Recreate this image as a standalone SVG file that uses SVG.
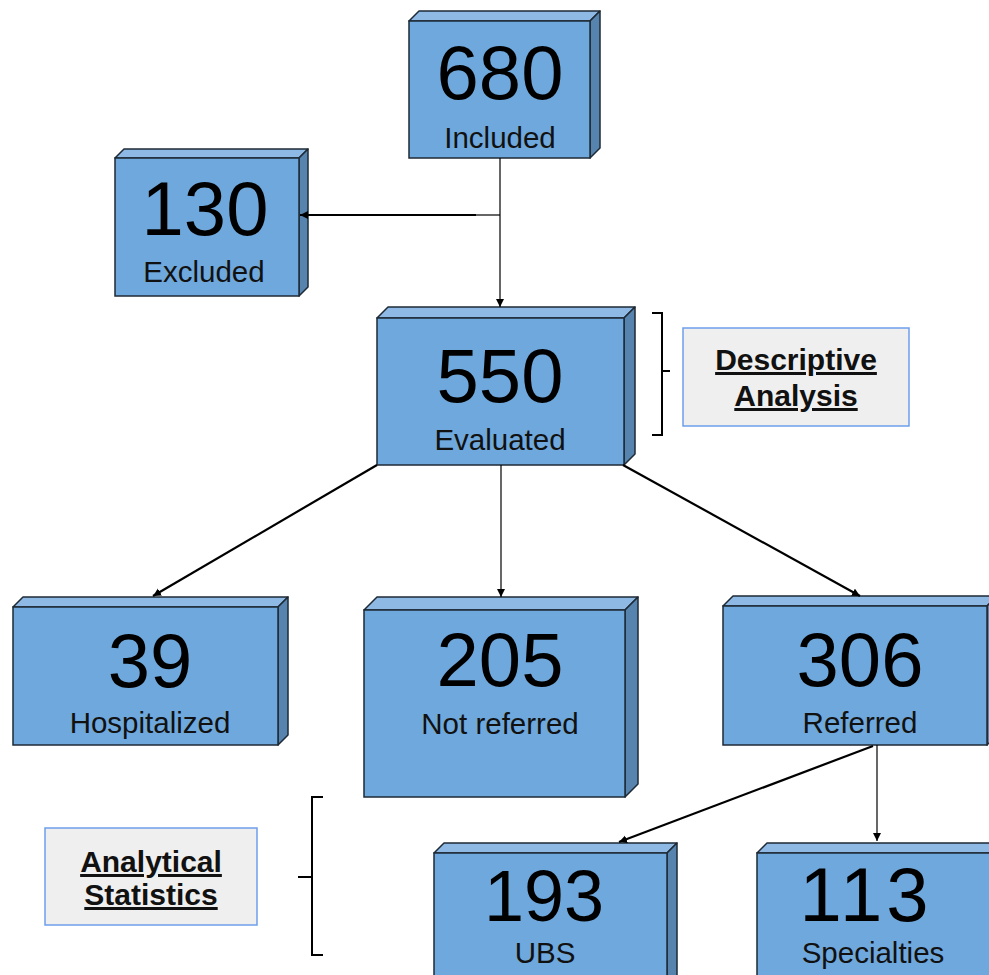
<svg xmlns="http://www.w3.org/2000/svg" width="989" height="975" viewBox="0 0 989 975">
<style>
.top{fill:#8db9e4;stroke:#1e2a36;stroke-width:1.5;stroke-linejoin:round}
.side{fill:#5784af;stroke:#1e2a36;stroke-width:1.5;stroke-linejoin:round}
.front{fill:#6fa8dc;stroke:#1e2a36;stroke-width:1.5}
.num{font-family:"Liberation Sans",Arial,sans-serif;font-size:76px;fill:#000;text-anchor:middle}
.lbl{font-family:"Liberation Sans",Arial,sans-serif;font-size:29.5px;fill:#111;text-anchor:middle}
.note{fill:#efefef;stroke:#6d9eeb;stroke-width:1.5}
.nt{font-family:"Liberation Sans",Arial,sans-serif;font-size:30px;font-weight:bold;fill:#111;text-anchor:middle;text-decoration:underline}
.c1{stroke:#000;stroke-width:1.2;fill:none}
.c2{stroke:#000;stroke-width:2.2;fill:none}
.br{stroke:#000;stroke-width:2;fill:none}
</style>
<defs>
<marker id="ah" markerUnits="userSpaceOnUse" markerWidth="9" markerHeight="9" refX="8" refY="4" orient="auto">
<path d="M0,0 L8,4 L0,8 z" fill="#000"/>
</marker>
</defs>

<g id="n680">
<polygon class="top" points="409,21 419,11 600,11 590,21"/>
<polygon class="side" points="590,21 600,11 600,148 590,158"/>
<rect class="front" x="409" y="21" width="181" height="137"/>
<text class="num" x="500" y="99">680</text>
<text class="lbl" x="500" y="148">Included</text>
</g>

<g id="n130">
<polygon class="top" points="115,158 124,149 308,149 299,158"/>
<polygon class="side" points="299,158 308,149 308,287 299,296"/>
<rect class="front" x="115" y="158" width="184" height="138"/>
<text class="num" x="205" y="235">130</text>
<text class="lbl" x="204" y="282">Excluded</text>
</g>

<g id="n550">
<polygon class="top" points="377,318 388,307 635,307 624,318"/>
<polygon class="side" points="624,318 635,307 635,454 624,465"/>
<rect class="front" x="377" y="318" width="247" height="147"/>
<text class="num" x="500" y="402">550</text>
<text class="lbl" x="500" y="450">Evaluated</text>
</g>

<g id="n39">
<polygon class="top" points="13,607 23,597 288,597 278,607"/>
<polygon class="side" points="278,607 288,597 288,735 278,745"/>
<rect class="front" x="13" y="607" width="265" height="138"/>
<text class="num" x="150" y="687">39</text>
<text class="lbl" x="150" y="733">Hospitalized</text>
</g>

<g id="n205">
<polygon class="top" points="364,610 377,597 638,597 625,610"/>
<polygon class="side" points="625,610 638,597 638,784 625,797"/>
<rect class="front" x="364" y="610" width="261" height="187"/>
<text class="num" x="500" y="686">205</text>
<text class="lbl" x="500" y="734">Not referred</text>
</g>

<g id="n306">
<polygon class="top" points="723,606 733,596 997,596 987,606"/>
<polygon class="side" points="987,606 997,596 997,735 987,745"/>
<rect class="front" x="723" y="606" width="264" height="139"/>
<text class="num" x="860" y="686">306</text>
<text class="lbl" x="860" y="733">Referred</text>
</g>

<g id="n193">
<polygon class="top" points="434,853 444,843 677,843 667,853"/>
<polygon class="side" points="667,853 677,843 677,1000 667,1010"/>
<rect class="front" x="434" y="853" width="233" height="160"/>
<text class="num" x="544" y="921" style="font-size:72px">193</text>
<text class="lbl" x="545" y="963">UBS</text>
</g>

<g id="n113">
<polygon class="top" points="757,853 767,843 1002,843 992,853"/>
<polygon class="side" points="992,853 1002,843 1002,1000 992,1010"/>
<rect class="front" x="757" y="853" width="235" height="160"/>
<text class="num" x="866" y="921" style="letter-spacing:4px">113</text>
<text class="lbl" x="873" y="963">Specialties</text>
</g>

<g id="descriptive">
<path class="br" d="M652,313 H662 V435 H652 M662,371 H670"/>
<rect class="note" x="683" y="328" width="226" height="98"/>
<text class="nt" x="796" y="370">Descriptive</text>
<text class="nt" x="796" y="406">Analysis</text>
</g>

<g id="analytical">
<path class="br" d="M323,797 H312 V955 H323 M312,877 H298"/>
<rect class="note" x="45" y="828" width="212" height="97"/>
<text class="nt" x="151" y="872">Analytical</text>
<text class="nt" x="151" y="905">Statistics</text>
</g>

<g id="connectors">
<line class="c1" x1="500" y1="158" x2="500" y2="307" marker-end="url(#ah)"/>
<line class="c1" x1="500" y1="215" x2="475" y2="215"/>
<line class="c2" x1="476" y1="215" x2="300" y2="215" marker-end="url(#ah)"/>
<line class="c2" x1="377" y1="465" x2="153" y2="596" marker-end="url(#ah)"/>
<line class="c1" x1="501" y1="465" x2="501" y2="597" marker-end="url(#ah)"/>
<line class="c2" x1="623" y1="465" x2="860" y2="596" marker-end="url(#ah)"/>
<line class="c2" x1="873" y1="746" x2="619" y2="842" marker-end="url(#ah)"/>
<line class="c1" x1="877" y1="745" x2="877" y2="841" marker-end="url(#ah)"/>
</g>
</svg>
